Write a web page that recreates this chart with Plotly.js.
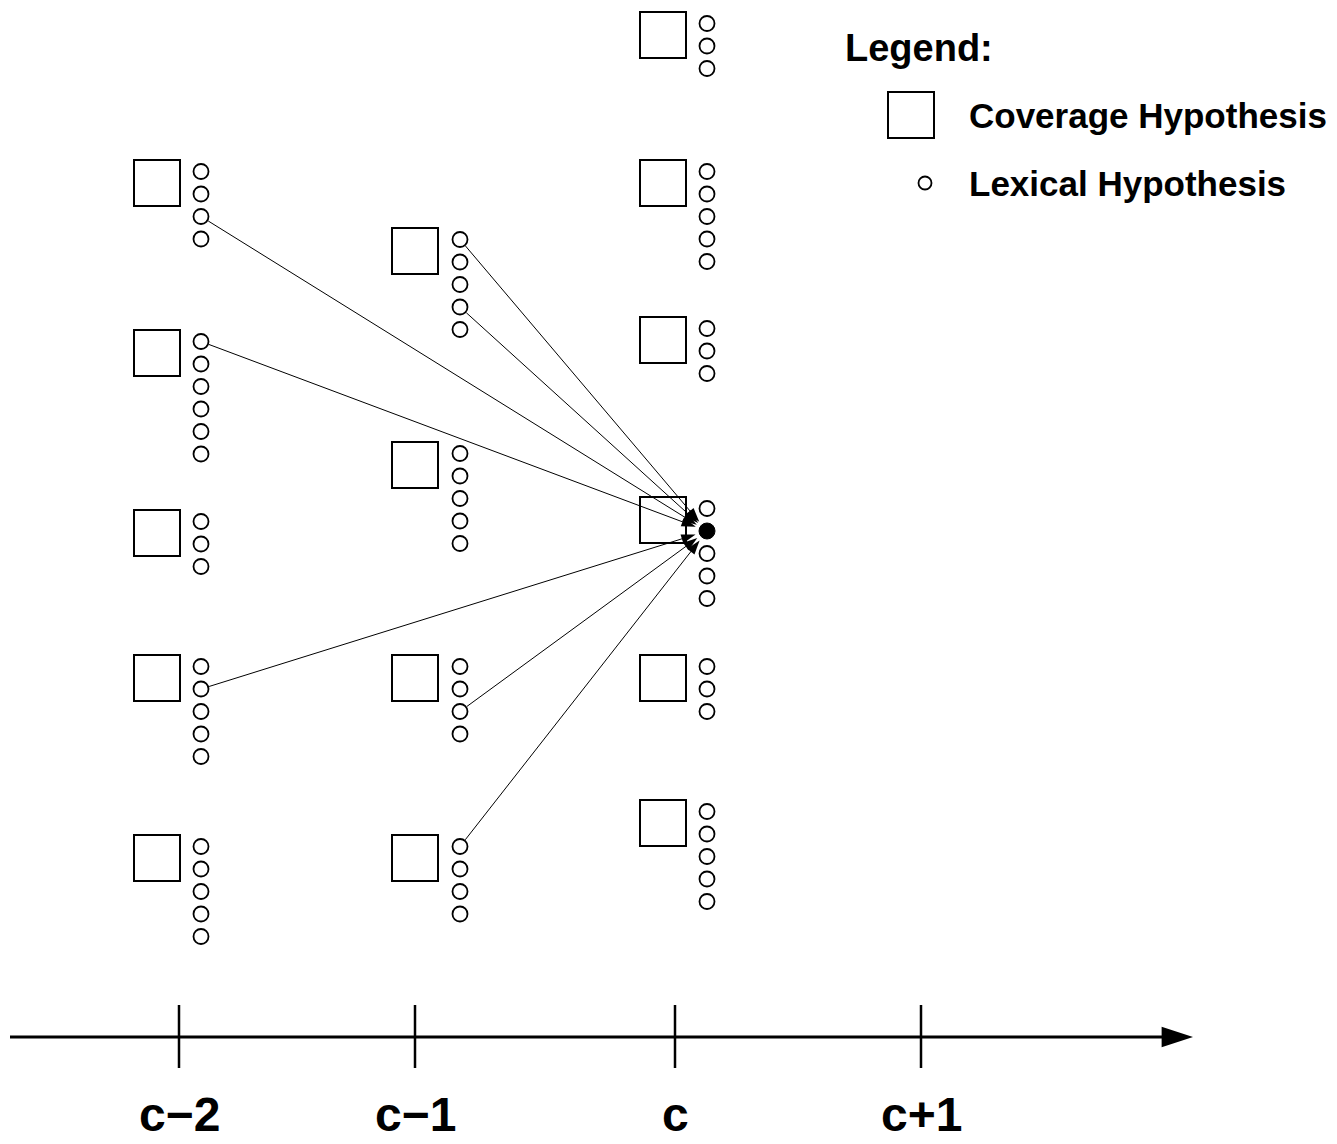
<!DOCTYPE html>
<html><head><meta charset="utf-8">
<script src="https://cdn.plot.ly/plotly-3.0.1.min.js"></script>
<style>html,body{margin:0;padding:0;background:#fff;}</style>
</head><body><div id="chart" style="width:1337px;height:1144px;"></div>
<script>
// ---- data ----
const columnLabels = ['c\u22122', 'c\u22121', 'c', 'c+1'];
// coverage hypotheses: column index, vertical slot, number of lexical hypotheses
const coverageColumn = [0, 0, 0, 0, 0, 1, 1, 1, 1, 2, 2, 2, 2, 2, 2];
const coverageSlot   = [160, 330, 510, 655, 835, 228, 442, 655, 835, 12, 160, 317, 497, 655, 800];
const lexicalCount   = [4, 6, 3, 5, 5, 5, 5, 4, 4, 3, 5, 3, 5, 3, 5];
// expanded lexical hypothesis
const targetCoverage = 12;
const targetLexical = 1;
// predecessor lexical hypotheses (coverage index, lexical index)
const sourceCoverage = [0, 1, 3, 5, 5, 7, 8];
const sourceLexical  = [2, 0, 1, 0, 3, 2, 0];
// legend
const legendTitle = 'Legend:';
const legendItems = ['Coverage Hypothesis', 'Lexical Hypothesis'];

// ---- geometry / style ----
const G = {
  tickX: [179, 415, 675, 921],
  boxLeft: [134, 392, 640],
  lexX: [201, 460, 707],
  box: 46, lexFirst: 11.5, lexStep: 22.5, lexR: 8.5, standoff: 12,
  axisY: 1037, axisX0: 10, axisX1: 1193, tickY0: 1005, tickY1: 1068, labelY: 1114,
  legX: 843, legY: 48, legBoxX: 888, legBoxY: 92, legCircX: 925, legCircY: 183, legTextX: 967
};
const FONT = 'Liberation Sans, Arial, Helvetica, sans-serif';

function lexPos(ci, li) {
  const col = coverageColumn[ci];
  return [G.lexX[col], coverageSlot[ci] + G.lexFirst + li * G.lexStep];
}

const traces = [];
const shapes = [];
const annotations = [];

// coverage boxes
coverageSlot.forEach((y, i) => {
  const x = G.boxLeft[coverageColumn[i]];
  shapes.push({type: 'rect', xref: 'x', yref: 'y', x0: x, x1: x + G.box, y0: y, y1: y + G.box,
    line: {color: '#000', width: 2}, fillcolor: 'rgba(0,0,0,0)'});
});

// lexical hypotheses
const lx = [], ly = [];
lexicalCount.forEach((n, ci) => {
  for (let li = 0; li < n; li++) {
    if (ci === targetCoverage && li === targetLexical) continue;
    const p = lexPos(ci, li); lx.push(p[0]); ly.push(p[1]);
  }
});
traces.push({x: lx, y: ly, mode: 'markers', type: 'scatter', hoverinfo: 'skip',
  marker: {symbol: 'circle', size: 15, color: '#fff', opacity: 1, line: {color: '#000', width: 1.8}}});

// arrows
const tp = lexPos(targetCoverage, targetLexical);
sourceCoverage.forEach((ci, k) => {
  const sp = lexPos(ci, sourceLexical[k]);
  const dx = tp[0] - sp[0], dy = tp[1] - sp[1];
  const L = Math.hypot(dx, dy), ux = dx / L, uy = dy / L;
  traces.push({
    x: [sp[0] + ux * G.lexR, tp[0] - ux * G.standoff],
    y: [sp[1] + uy * G.lexR, tp[1] - uy * G.standoff],
    mode: 'lines+markers', type: 'scatter', hoverinfo: 'skip',
    line: {color: '#000', width: 1},
    marker: {symbol: 'arrow', size: [0, 15], color: '#000', opacity: 1, angleref: 'previous', line: {width: 0}}
  });
});

// target (filled)
traces.push({x: [tp[0]], y: [tp[1]], mode: 'markers', type: 'scatter', hoverinfo: 'skip',
  marker: {symbol: 'circle', size: 16, color: '#000', opacity: 1, line: {color: '#000', width: 1}}});

// time axis
traces.push({x: [G.axisX0, G.axisX1], y: [G.axisY, G.axisY], mode: 'lines+markers', type: 'scatter',
  hoverinfo: 'skip', line: {color: '#000', width: 3},
  marker: {symbol: 'arrow', size: [0, 33], color: '#000', opacity: 1, angleref: 'previous', line: {width: 0}}});
G.tickX.forEach((x, i) => {
  shapes.push({type: 'line', xref: 'x', yref: 'y', x0: x, x1: x, y0: G.tickY0, y1: G.tickY1,
    line: {color: '#000', width: 2.5}});
  annotations.push({x: x, y: G.labelY, xref: 'x', yref: 'y', text: '<b>' + columnLabels[i] + '</b>',
    showarrow: false, xanchor: 'center', yanchor: 'middle', font: {family: FONT, size: 48, color: '#000'}});
});

// legend
annotations.push({x: G.legX, y: G.legY, xref: 'x', yref: 'y', text: '<b>' + legendTitle + '</b>',
  showarrow: false, xanchor: 'left', yanchor: 'middle', font: {family: FONT, size: 38, color: '#000'}});
shapes.push({type: 'rect', xref: 'x', yref: 'y', x0: G.legBoxX, x1: G.legBoxX + G.box,
  y0: G.legBoxY, y1: G.legBoxY + G.box, line: {color: '#000', width: 2}, fillcolor: 'rgba(0,0,0,0)'});
traces.push({x: [G.legCircX], y: [G.legCircY], mode: 'markers', type: 'scatter', hoverinfo: 'skip',
  marker: {symbol: 'circle', size: 13, color: '#fff', opacity: 1, line: {color: '#000', width: 1.8}}});
[G.legBoxY + G.box / 2, G.legCircY].forEach((y, i) => {
  annotations.push({x: G.legTextX, y: y, xref: 'x', yref: 'y', text: '<b>' + legendItems[i] + '</b>',
    showarrow: false, xanchor: 'left', yanchor: 'middle', font: {family: FONT, size: 35, color: '#000'}});
});

const layout = {
  width: 1337, height: 1144, margin: {l: 0, r: 0, t: 0, b: 0},
  paper_bgcolor: '#fff', plot_bgcolor: '#fff', showlegend: false,
  xaxis: {range: [0, 1337], visible: false, fixedrange: true},
  yaxis: {range: [1144, 0], visible: false, fixedrange: true},
  shapes: shapes, annotations: annotations
};
Plotly.newPlot('chart', traces, layout, {displayModeBar: false, staticPlot: true});
</script>
</body></html>
